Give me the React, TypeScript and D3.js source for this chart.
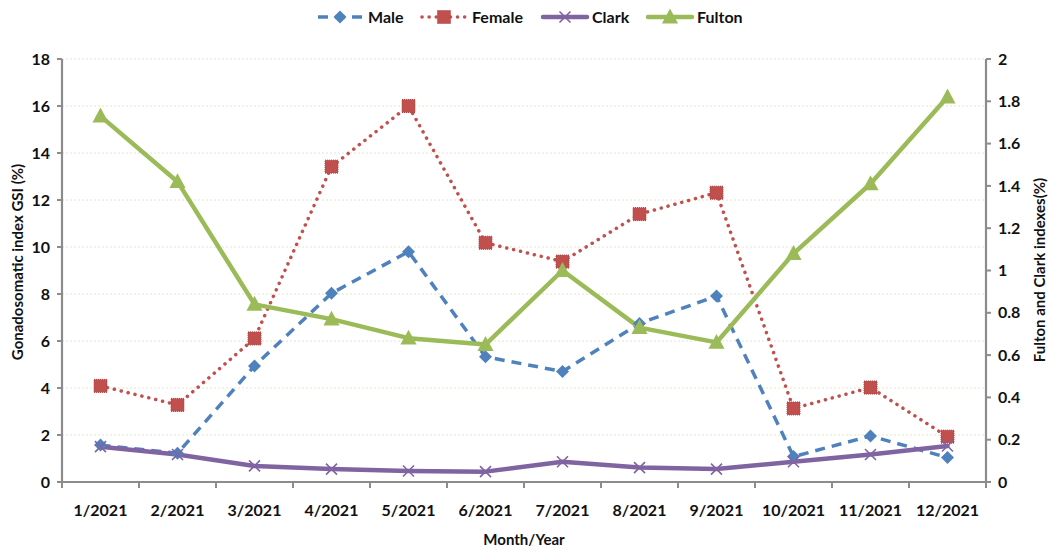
import React from "react";
import * as d3 from "d3";

const months = ["1/2021","2/2021","3/2021","4/2021","5/2021","6/2021","7/2021","8/2021","9/2021","10/2021","11/2021","12/2021"];
const male = [1.57,1.22,4.94,8.03,9.8,5.33,4.7,6.75,7.91,1.08,1.96,1.04];
const female = [4.09,3.28,6.11,13.42,16.0,10.18,9.38,11.4,12.31,3.13,4.02,1.93];
const clark = [0.167,0.13,0.076,0.061,0.052,0.049,0.096,0.068,0.061,0.096,0.13,0.17];
const fulton = [1.73,1.42,0.84,0.77,0.68,0.65,1.0,0.73,0.66,1.08,1.41,1.82];
const leftTicks = [0,2,4,6,8,10,12,14,16,18];
const rightTicks = [0,0.2,0.4,0.6,0.8,1,1.2,1.4,1.6,1.8,2];

const W = 1051, H = 550;
const L = 62, R = 986, T = 59, B = 482;
const FONT = "Lato, 'Open Sans', sans-serif";
const AXIS = "#8c8c8c";
const C_MALE = "#4F81BD", C_FEMALE = "#C0504D", C_CLARK = "#8064A2", C_FULTON = "#9BBB59";

function Marker({ kind, x, y }: { kind: string; x: number; y: number }) {
  if (kind === "diamond") {
    const s = 6.5;
    return <path d={`M${x},${y - s}L${x + s},${y}L${x},${y + s}L${x - s},${y}Z`} fill={C_MALE} />;
  }
  if (kind === "square") {
    const s = 6.5;
    return <rect x={x - s} y={y - s} width={2 * s} height={2 * s} fill={C_FEMALE} stroke="#b04040" strokeWidth={1} strokeDasharray="1,1" />;
  }
  if (kind === "x") {
    const s = 5.5;
    return <path d={`M${x - s},${y - s}L${x + s},${y + s}M${x - s},${y + s}L${x + s},${y - s}`} stroke={C_CLARK} strokeWidth={1.6} fill="none" />;
  }
  const s = 8.5;
  return <path d={`M${x},${y - s}L${x + s * 0.95},${y + s * 0.75}L${x - s * 0.95},${y + s * 0.75}Z`} fill={C_FULTON} />;
}

export default function App() {
  const x = d3.scaleBand().domain(months).range([L, R]).paddingInner(0).paddingOuter(0);
  const yL = d3.scaleLinear().domain([0, 18]).range([B, T]);
  const yR = d3.scaleLinear().domain([0, 2]).range([B, T]);
  const cx = (m: string) => (x(m) as number) + x.bandwidth() / 2;

  const lineL = d3.line<number>().x((_, i) => cx(months[i])).y((d) => yL(d));
  const lineR = d3.line<number>().x((_, i) => cx(months[i])).y((d) => yR(d));

  const series = [
    { name: "Male", data: male, color: C_MALE, dash: "10,7", width: 3.5, cap: "butt", marker: "diamond", path: lineL(male) },
    { name: "Female", data: female, color: C_FEMALE, dash: "0.1,7", width: 3.5, cap: "round", marker: "square", path: lineL(female) },
    { name: "Clark", data: clark, color: C_CLARK, dash: "", width: 4.5, cap: "round", marker: "x", path: lineR(clark) },
    { name: "Fulton", data: fulton, color: C_FULTON, dash: "", width: 4.5, cap: "round", marker: "tri", path: lineR(fulton) },
  ];
  const drawOrderFinal = [series[1], series[0], series[2], series[3]];

  const legendItems = [
    { s: series[0], x0: 318, tx: 368 },
    { s: series[1], x0: 422, tx: 472 },
    { s: series[2], x0: 543, tx: 592 },
    { s: series[3], x0: 648, tx: 697 },
  ];

  const xTickPos = d3.range(months.length + 1).map((i) => L + i * x.bandwidth());

  return (
    <svg width={W} height={H} style={{ position: "absolute", left: 0, top: 0, background: "#fff" }} fontFamily={FONT}>
      <rect width={W} height={H} fill="#fff" />
      {leftTicks.filter((t) => t > 0).map((t) => (
        <line key={"g" + t} x1={L} x2={R} y1={yL(t)} y2={yL(t)} stroke="#e4e4cf" strokeWidth={1} strokeDasharray="2,2" />
      ))}
      <line x1={L} x2={L} y1={T} y2={B} stroke={AXIS} strokeWidth={2.2} />
      <line x1={R} x2={R} y1={T} y2={B} stroke={AXIS} strokeWidth={2.2} />
      <line x1={L} x2={R} y1={B} y2={B} stroke={AXIS} strokeWidth={2.2} />
      {leftTicks.map((t) => (
        <g key={"l" + t}>
          <line x1={L - 5} x2={L} y1={yL(t)} y2={yL(t)} stroke={AXIS} strokeWidth={2} />
          <text x={50} y={yL(t)} dy="0.35em" textAnchor="end" fontSize={16} fontWeight="bold" fill="#111">{t}</text>
        </g>
      ))}
      {rightTicks.map((t) => (
        <g key={"r" + t}>
          <line x1={R} x2={R + 5} y1={yR(t)} y2={yR(t)} stroke={AXIS} strokeWidth={2} />
          <text x={998} y={yR(t)} dy="0.35em" textAnchor="start" fontSize={16} fontWeight="bold" fill="#111">{t}</text>
        </g>
      ))}
      {xTickPos.map((p, i) => (
        <line key={"xt" + i} x1={p} x2={p} y1={B} y2={B + 6} stroke={AXIS} strokeWidth={2} />
      ))}
      {months.map((m) => (
        <text key={"xl" + m} x={cx(m)} y={516} textAnchor="middle" fontSize={16} fontWeight="bold" fill="#111">{m}</text>
      ))}
      <text x={524} y={545} textAnchor="middle" fontSize={15} fontWeight="bold" fill="#111">Month/Year</text>
      <text transform={`translate(23,262) rotate(-90)`} textAnchor="middle" fontSize={15} fontWeight="bold" fill="#111">Gonadosomatic index GSI (%)</text>
      <text transform={`translate(1045,270) rotate(-90)`} textAnchor="middle" fontSize={15} fontWeight="bold" fill="#111">Fulton and Clark indexes(%)</text>
      {drawOrderFinal.map((s) => (
        <path key={"s" + s.name} d={s.path || ""} fill="none" stroke={s.color} strokeWidth={s.width} strokeDasharray={s.dash || undefined} strokeLinecap={s.cap as any} strokeLinejoin="round" />
      ))}
      {drawOrderFinal.map((s) => (
        <g key={"m" + s.name}>
          {s.data.map((v, i) => (
            <Marker key={i} kind={s.marker} x={cx(months[i])} y={s.name === "Male" || s.name === "Female" ? yL(v) : yR(v)} />
          ))}
        </g>
      ))}
      {legendItems.map(({ s, x0, tx }) => (
        <g key={"lg" + s.name}>
          <line x1={x0} x2={x0 + 44} y1={17} y2={17} stroke={s.color} strokeWidth={s.width} strokeDasharray={s.dash || undefined} strokeLinecap={s.cap as any} />
          <Marker kind={s.marker} x={x0 + 22} y={17} />
          <text x={tx} y={17} dy="0.35em" fontSize={16} fontWeight="bold" fill="#111">{s.name}</text>
        </g>
      ))}
    </svg>
  );
}
